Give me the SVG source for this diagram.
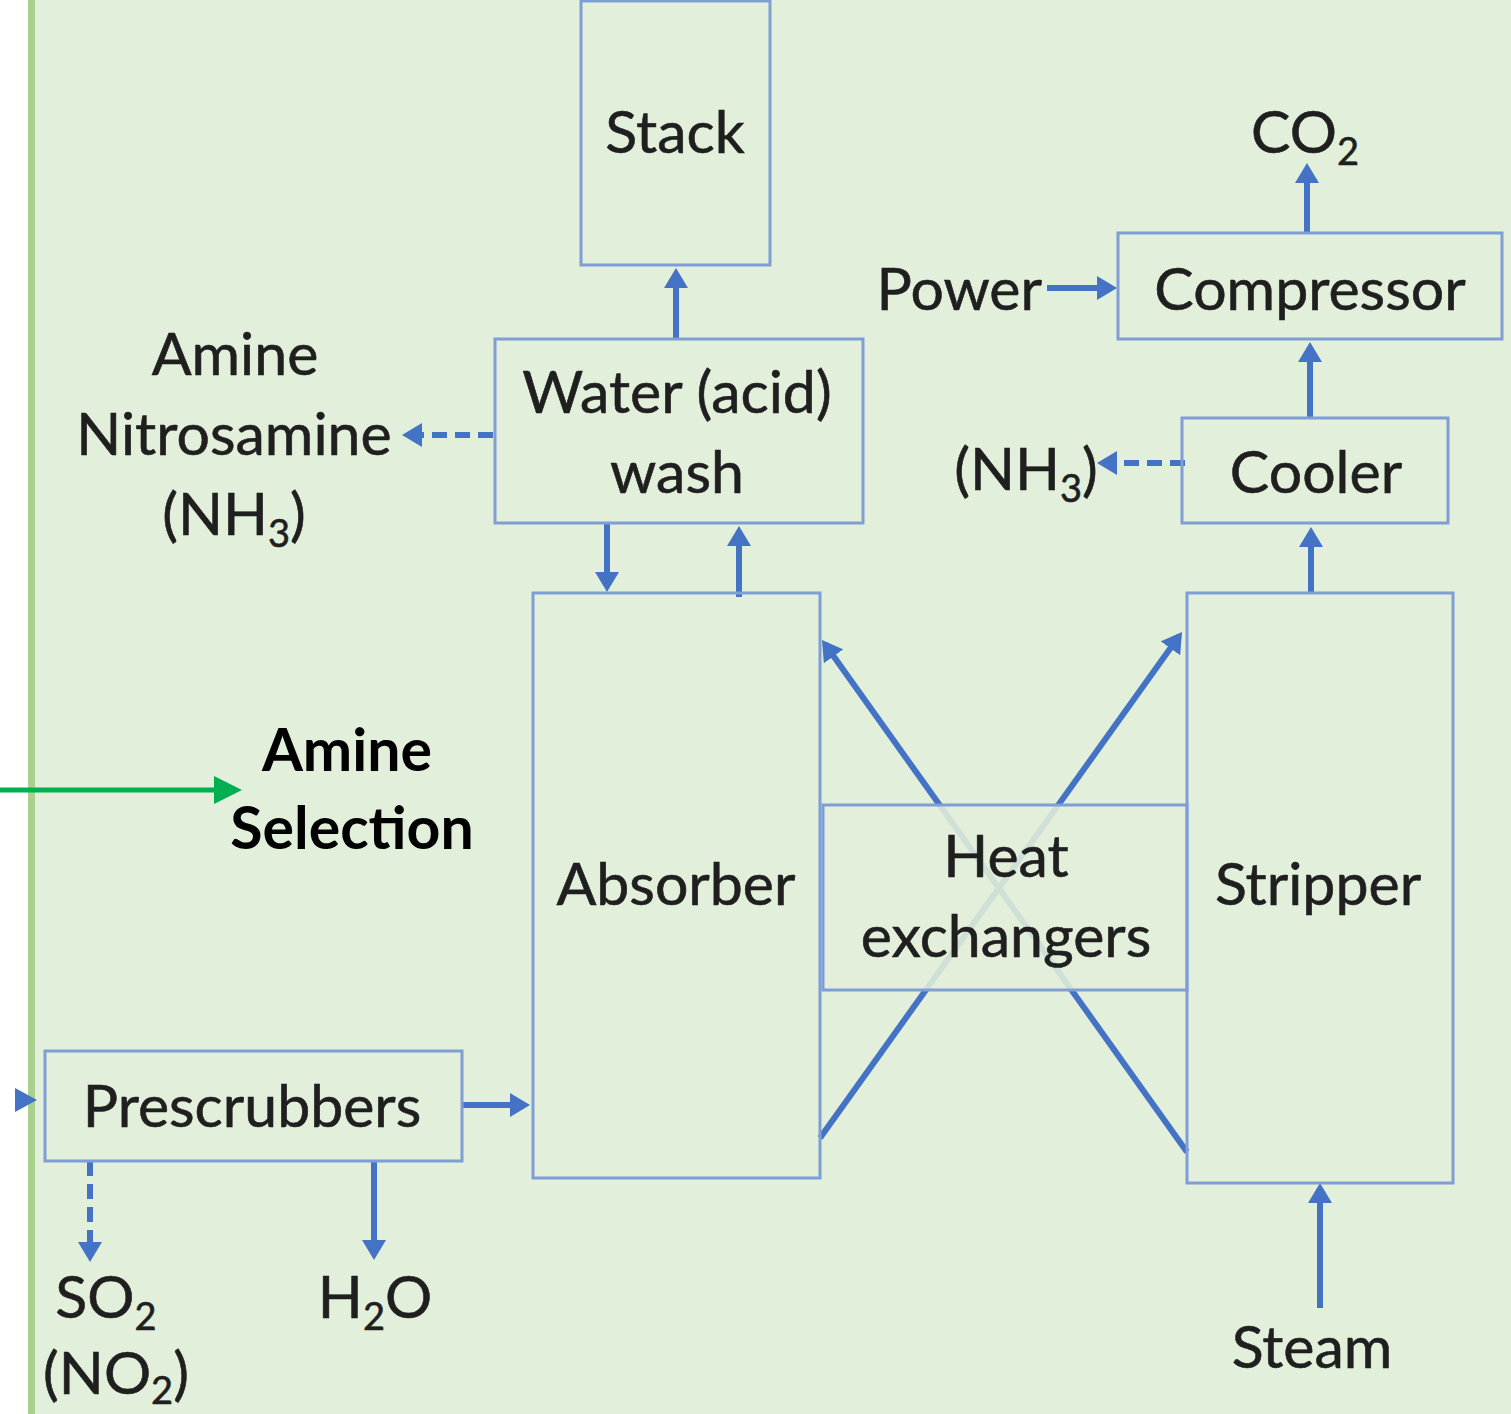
<svg xmlns="http://www.w3.org/2000/svg" width="1511" height="1414" viewBox="0 0 1511 1414">
<defs>
<style>
.bg{fill:#e2efda}
.box{fill:none;stroke:#7f9ed6;stroke-width:3}
.t{font-family:Lato,"Open Sans","Liberation Sans",sans-serif;font-size:59px;fill:#1f1f1f;text-anchor:middle;stroke:#1f1f1f;stroke-width:0.6}
.b{font-family:Lato,"Open Sans","Liberation Sans",sans-serif;font-size:59px;font-weight:bold;fill:#000;text-anchor:middle}
.sub{font-size:38px}
.c{fill:none;stroke:#4472c4;stroke-width:6}
.d{stroke-dasharray:15 8}
</style>
<marker id="ah" markerUnits="userSpaceOnUse" viewBox="0 0 20 24" markerWidth="20" markerHeight="24" refX="15" refY="12" orient="auto">
<path d="M0,0 L20,12 L0,24 z" fill="#4472c4"/>
</marker>
<marker id="gh" markerUnits="userSpaceOnUse" viewBox="0 0 28 28" markerWidth="28" markerHeight="28" refX="4" refY="14" orient="auto">
<path d="M0,0 L28,14 L0,28 z" fill="#00b050"/>
</marker>
</defs>
<rect x="0" y="0" width="1511" height="1414" fill="#ffffff"/>
<rect x="30" y="0" width="1481" height="1414" class="bg"/>
<rect x="28" y="0" width="7" height="1414" fill="#a9d18e"/>

<g id="connectors">
<line class="c" x1="676" y1="339" x2="676" y2="273" marker-end="url(#ah)"/>
<line class="c" x1="607" y1="524" x2="607" y2="587" marker-end="url(#ah)"/>
<line class="c" x1="739" y1="597" x2="739" y2="531" marker-end="url(#ah)"/>
<line class="c" x1="1307" y1="233" x2="1307" y2="168" marker-end="url(#ah)"/>
<line class="c" x1="1047" y1="288" x2="1112" y2="288" marker-end="url(#ah)"/>
<line class="c" x1="1310" y1="418" x2="1310" y2="347" marker-end="url(#ah)"/>
<line class="c" x1="1311" y1="593" x2="1311" y2="532" marker-end="url(#ah)"/>
<line class="c" x1="1320" y1="1308" x2="1320" y2="1188" marker-end="url(#ah)"/>
<line class="c" x1="463" y1="1105" x2="525" y2="1105" marker-end="url(#ah)"/>
<line class="c" x1="374" y1="1161" x2="374" y2="1255" marker-end="url(#ah)"/>
<line class="c" x1="1187" y1="1152" x2="824.9" y2="644.1" marker-end="url(#ah)"/>
<line class="c" x1="820" y1="1138" x2="1179.1" y2="636.1" marker-end="url(#ah)"/>
<line class="c d" x1="493" y1="435" x2="407" y2="435" marker-end="url(#ah)"/>
<line class="c d" x1="1185" y1="463" x2="1102" y2="463" marker-end="url(#ah)"/>
<line class="c d" x1="90" y1="1161" x2="90" y2="1257" marker-end="url(#ah)"/>
<path d="M15,1088 L37,1100 L15,1112 z" fill="#4472c4"/>
<line x1="0" y1="790" x2="218" y2="790" stroke="#00b050" stroke-width="5" marker-end="url(#gh)"/>
</g>

<g id="stack"><rect class="box" x="581" y="1" width="189" height="264"/><text class="t" x="675" y="153">Stack</text></g>
<g id="wash"><rect class="box" x="495" y="339" width="368" height="184"/><text class="t" x="677" y="413">Water (acid)</text><text class="t" x="677" y="493">wash</text></g>
<g id="absorber"><rect class="box" x="533" y="593" width="287" height="585"/><text class="t" x="676" y="905">Absorber</text></g>
<g id="heat-exchangers"><rect x="823" y="805" width="364" height="185" fill="#e2efda" fill-opacity="0.88" stroke="#7f9ed6" stroke-width="3"/><text class="t" x="1006" y="877">Heat</text><text class="t" x="1006" y="957">exchangers</text></g>
<g id="stripper"><rect class="box" x="1187" y="593" width="266" height="590"/><text class="t" x="1318" y="905">Stripper</text></g>
<g id="cooler"><rect class="box" x="1182" y="418" width="266" height="105"/><text class="t" x="1316" y="493">Cooler</text></g>
<g id="compressor"><rect class="box" x="1118" y="233" width="384" height="106"/><text class="t" x="1310" y="310">Compressor</text></g>
<g id="prescrubbers"><rect class="box" x="45" y="1051" width="417" height="110"/><text class="t" x="252" y="1127">Prescrubbers</text></g>

<g id="label-amine-out"><text class="t" x="235" y="375">Amine</text><text class="t" x="234" y="455">Nitrosamine</text><text class="t" x="234" y="535">(NH<tspan class="sub" dy="12">3</tspan><tspan dy="-12">)</tspan></text></g>
<g id="label-power"><text class="t" x="1042" y="310" style="text-anchor:end">Power</text></g>
<g id="label-co2"><text class="t" x="1305" y="153">CO<tspan class="sub" dy="12">2</tspan></text></g>
<g id="label-nh3"><text class="t" x="1026" y="490">(NH<tspan class="sub" dy="12">3</tspan><tspan dy="-12">)</tspan></text></g>
<g id="label-so2"><text class="t" x="106" y="1318">SO<tspan class="sub" dy="12">2</tspan></text><text class="t" x="116" y="1394">(NO<tspan class="sub" dy="10">2</tspan><tspan dy="-10">)</tspan></text></g>
<g id="label-h2o"><text class="t" x="375" y="1318">H<tspan class="sub" dy="12">2</tspan><tspan dy="-12">O</tspan></text></g>
<g id="label-steam"><text class="t" x="1312" y="1368">Steam</text></g>
<g id="label-amine-selection"><text class="b" x="347" y="771">Amine</text><text class="b" x="352" y="849">Selection</text></g>
</svg>
